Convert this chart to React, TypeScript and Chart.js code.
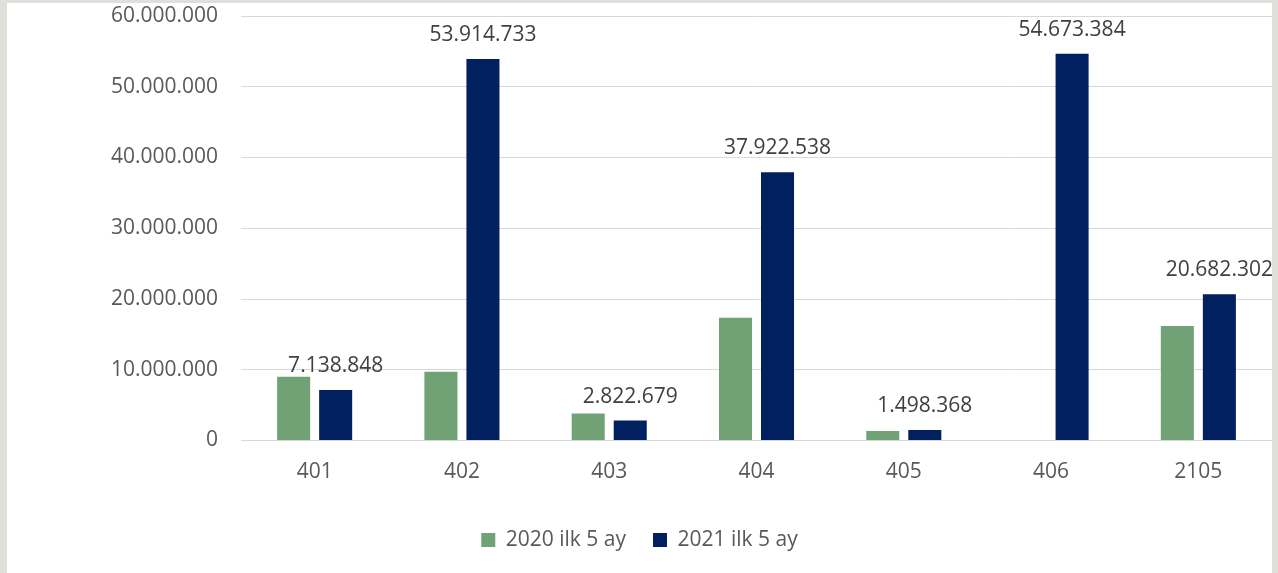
import { useEffect, useRef } from "react";
import { Chart, registerables } from "chart.js";

Chart.register(...registerables);

const categories = ["401", "402", "403", "404", "405", "406", "2105"];
const series2020 = [9000000, 9700000, 3800000, 17360000, 1350000, 0, 16200000];
const series2021 = [7138848, 53914733, 2822679, 37922538, 1498368, 54673384, 20682302];
const seriesLabels = ["2020 ilk 5 ay", "2021 ilk 5 ay"];
const seriesColors = ["#71a276", "#002060"];
const yTicks = [0, 10000000, 20000000, 30000000, 40000000, 50000000, 60000000];

const FONT = "'Open Sans', 'Noto Sans', sans-serif";

function fmt(n: number): string {
  return Math.round(n)
    .toString()
    .replace(/\B(?=(\d{3})+(?!\d))/g, ".");
}

const valueLabels = {
  id: "valueLabels",
  afterDatasetsDraw(chart: any) {
    const meta = chart.getDatasetMeta(1);
    const data = chart.data.datasets[1].data;
    const ctx = chart.ctx;
    ctx.save();
    ctx.font = `21px ${FONT}`;
    ctx.fillStyle = "#404040";
    ctx.textAlign = "center";
    ctx.textBaseline = "alphabetic";
    meta.data.forEach((el: any, i: number) => {
      ctx.fillText(fmt(data[i]), el.x, el.y - 18);
    });
    ctx.restore();
  },
};

export default function App() {
  const ref = useRef<HTMLCanvasElement | null>(null);

  useEffect(() => {
    document.body.style.margin = "0";
    if (!ref.current) return;
    const chart = new Chart(ref.current, {
      type: "bar",
      data: {
        labels: categories,
        datasets: [
          {
            label: seriesLabels[0],
            data: series2020,
            backgroundColor: seriesColors[0],
            categoryPercentage: 0.5708,
            barPercentage: 0.7857,
          },
          {
            label: seriesLabels[1],
            data: series2021,
            backgroundColor: seriesColors[1],
            categoryPercentage: 0.5708,
            barPercentage: 0.7857,
          },
        ],
      },
      options: {
        responsive: false,
        animation: false,
        layout: { padding: { top: 13, left: 0, right: 0, bottom: 12.5 } },
        font: { family: FONT },
        plugins: {
          tooltip: { enabled: false },
          legend: {
            position: "bottom",
            labels: {
              boxWidth: 14,
              boxHeight: 14,
              padding: 27,
              color: "#595959",
              font: { family: FONT, size: 21 },
            },
          },
        },
        scales: {
          x: {
            grid: { display: false },
            border: { display: true, color: "#d9d9d9", width: 1 },
            ticks: {
              color: "#595959",
              padding: 10.5,
              font: { family: FONT, size: 21 },
            },
            afterFit(scale: any) {
              scale.height = 62;
            },
          },
          y: {
            min: 0,
            max: 60000000,
            border: { display: false },
            grid: { color: "#d9d9d9", lineWidth: 1, drawTicks: false },
            afterBuildTicks(scale: any) {
              scale.ticks = yTicks.map((v) => ({ value: v }));
            },
            ticks: {
              color: "#595959",
              padding: 23,
              font: { family: FONT, size: 21 },
              callback: (v: any) => fmt(Number(v)),
            },
            afterFit(scale: any) {
              scale.width = 234;
              scale.paddingTop = 0;
              scale.paddingBottom = 0;
            },
          },
        },
      },
      plugins: [valueLabels],
    });
    return () => chart.destroy();
  }, []);

  return (
    <div
      style={{
        position: "relative",
        width: 1278,
        height: 573,
        background: "#dfdfdb",
        overflow: "hidden",
      }}
    >
      <div
        style={{
          position: "absolute",
          left: 7,
          top: 3,
          width: 1265,
          height: 570,
          background: "#ffffff",
        }}
      >
        <canvas ref={ref} width={1265} height={570} style={{ display: "block" }} />
      </div>
    </div>
  );
}
